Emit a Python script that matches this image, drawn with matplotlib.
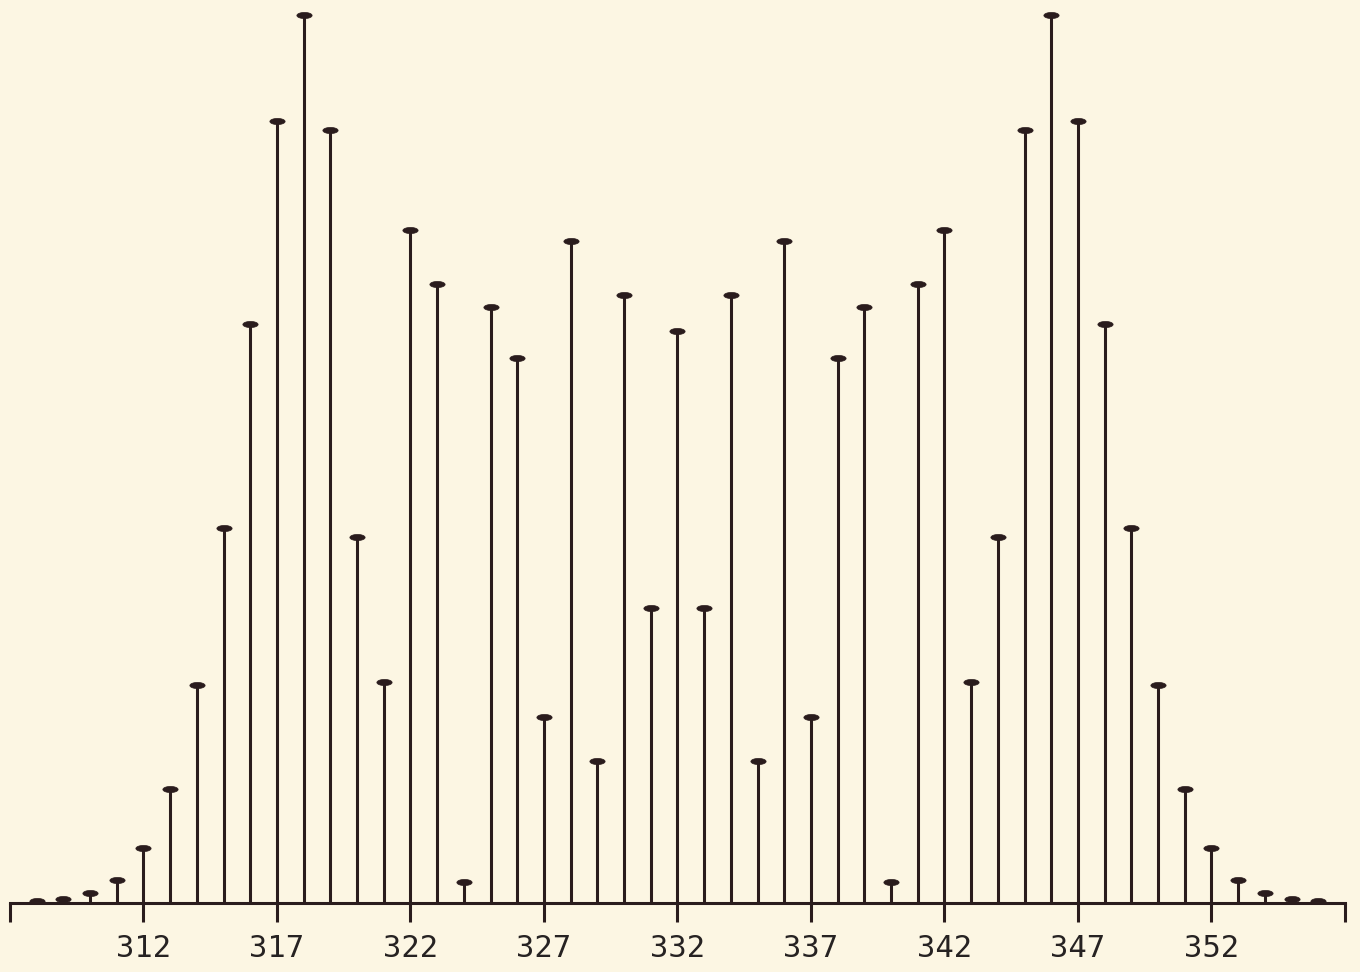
import matplotlib
matplotlib.use("Agg")
import numpy as np
import matplotlib.pyplot as plt

# Data
masses = list(range(308, 357))
intensities = [0.2, 0.45, 1.1, 2.6, 6.2, 12.8, 24.5, 42.2, 65.2, 88.1,
               100.0, 87.1, 41.2, 24.9, 75.8, 69.7, 2.4, 67.1, 61.4, 21.0,
               74.5, 16.0, 68.5, 33.2, 64.4, 33.2, 68.5, 16.0, 74.5, 21.0,
               61.4, 67.1, 2.4, 69.7, 75.8, 24.9, 41.2, 87.1, 100.0, 88.1,
               65.2, 42.2, 24.5, 12.8, 6.2, 2.6, 1.1, 0.45, 0.2]
tick_values = [312, 317, 322, 327, 332, 337, 342, 347, 352]
tick_labels = ["312", "317", "322", "327", "332", "337", "342", "347", "352"]

bg = "#fcf6e3"
ink = "#2a1c1d"

# flattened ellipse marker for the stem caps
t = np.linspace(0, 2 * np.pi, 40)
cap_marker = list(zip(np.cos(t), 0.4 * np.sin(t)))

fig = plt.figure(figsize=(13.6, 9.72), dpi=100, facecolor=bg)
ax = fig.add_axes([10/1360, (972-903)/972, (1345-10)/1360, (903-15)/972])
ax.set_facecolor(bg)

ax.vlines(masses, 0, intensities, color=ink, linewidth=2.2, clip_on=False)
ax.plot(masses, intensities, linestyle="none", marker=cap_marker, markersize=11,
        markeredgewidth=0.5, color=ink, clip_on=False)

ax.set_xlim(307, 357)
ax.set_ylim(0, 100)

for s in ["top", "left", "right"]:
    ax.spines[s].set_visible(False)
ax.spines["bottom"].set_color(ink)
ax.spines["bottom"].set_linewidth(2.2)

ax.set_yticks([])
ax.set_xticks([307] + tick_values + [357])
ax.set_xticklabels([""] + tick_labels + [""], fontfamily="DejaVu Sans Mono",
                   fontsize=22, color="#262222")
ax.tick_params(axis="x", direction="out", length=14, width=2.2, color=ink, pad=8)

fig.savefig("out.png", dpi=100, facecolor=bg)
